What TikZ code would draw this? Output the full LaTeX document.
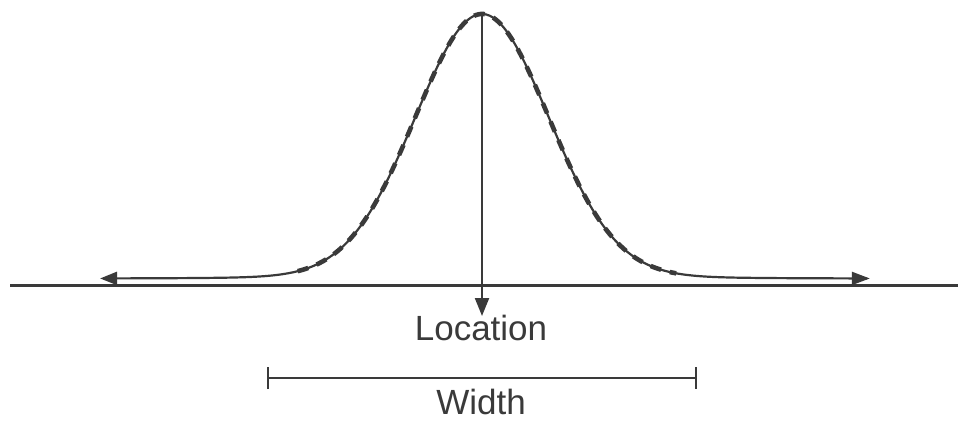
\documentclass[tikz,border=0pt]{standalone}
\usepackage{fontspec}
\setmainfont{Liberation Sans}
\usetikzlibrary{arrows.meta}
\definecolor{ink}{HTML}{3A3A3A}
\tikzset{
  curve/.style={ink, line width=2.2pt},
  dashover/.style={ink, line width=4.6pt, dash pattern=on 11pt off 9pt},
  axisline/.style={ink, line width=3pt},
  bar/.style={ink, line width=2pt},
  lbl/.style={text=ink, font=\fontsize{35}{40}\selectfont, inner sep=0pt, anchor=base}
}
\begin{document}
\begin{tikzpicture}[x=1pt,y=-1pt]
\useasboundingbox (0,0) rectangle (958,422);
% baseline
\coordinate (bl) at (10,285.5);
\coordinate (br) at (958,285.5);
\draw[axisline] (bl) -- (br);
% curve with arrow ends
\draw[curve, {Triangle[width=13pt,length=17pt]}-{Triangle[width=13pt,length=18pt]}]
  plot[domain=-5.70:5.79, samples=240, smooth]
  ({482+67*\x}, {279 - 265*(0.96*exp(-(\x*\x)/2) + 0.04/(1+(\x*67/90)*(\x*67/90)))});
% dashed overlay
\draw[dashover]
  plot[domain=-2.75:2.9, samples=160, smooth]
  ({482+67*\x}, {279 - 265*(0.96*exp(-(\x*\x)/2) + 0.04/(1+(\x*67/90)*(\x*67/90)))});
% location arrow
\coordinate (peak) at (482,13);
\coordinate (loc) at (482,316);
\draw[curve, -{Triangle[width=14pt,length=18pt]}] (peak) -- (loc);
\node[lbl] (location) at (481,340) {Location};
% width bar
\coordinate (wl) at (267,378);
\coordinate (wr) at (697,378);
\draw[bar, {Bar[width=22pt]}-{Bar[width=22pt]}] (wl) -- (wr);
\node[lbl] (width) at (481,414) {Width};
\end{tikzpicture}
\end{document}
